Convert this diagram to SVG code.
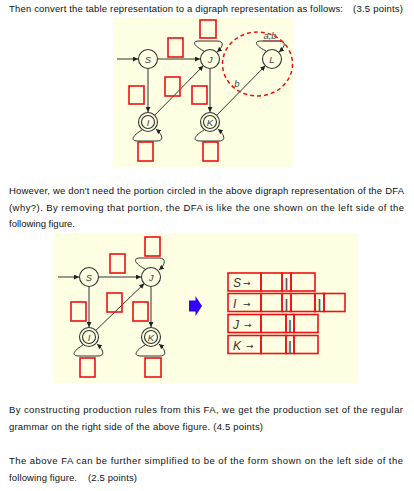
<svg xmlns="http://www.w3.org/2000/svg" width="414" height="491" viewBox="0 0 414 491">
<style>
.t{font-family:"Liberation Sans",Arial,sans-serif;font-size:9.5px;fill:#111}
.bg{fill:#fefee3}
.n{fill:#fefee3;stroke:#333;stroke-width:1.1}
.nl{font-family:"Liberation Sans",Arial,sans-serif;font-size:9.5px;font-style:italic;fill:#444;text-anchor:middle}
.e{fill:none;stroke:#333;stroke-width:1}
.a{marker-end:url(#ah)}
.rb{fill:none;stroke:#ee1111;stroke-width:1.6}
.tl{font-family:"Liberation Sans",Arial,sans-serif;font-size:12px;font-style:italic;fill:#333}
.ar{font-family:"DejaVu Sans",sans-serif;font-size:9px;fill:#333}
.bar{font-family:"Liberation Sans",Arial,sans-serif;font-size:12px;fill:#555;text-anchor:middle;font-weight:bold}
</style>
<defs>
<marker id="ah" viewBox="0 0 10 10" refX="10" refY="5" markerWidth="5" markerHeight="5" orient="auto" markerUnits="userSpaceOnUse">
<path d="M0,0 L10,5 L0,10 z" fill="#222"/>
</marker>
</defs>

<g id="text">
<text class="t" x="9" y="12" textLength="334" lengthAdjust="spacing">Then convert the table representation to a digraph representation as follows:</text>
<text class="t" x="353" y="12" textLength="50" lengthAdjust="spacing">(3.5 points)</text>
<text class="t" x="9" y="194" textLength="395" lengthAdjust="spacing">However, we don't need the portion circled in the above digraph representation of the DFA</text>
<text class="t" x="9" y="210.5" textLength="395" lengthAdjust="spacing">(why?). By removing that portion, the DFA is like the one shown on the left side of the</text>
<text class="t" x="9" y="227">following figure.</text>
<text class="t" x="9" y="413" textLength="394" lengthAdjust="spacing">By constructing production rules from this FA, we get the production set of the regular</text>
<text class="t" x="9" y="430" textLength="254" lengthAdjust="spacing">grammar on the right side of the above figure. (4.5 points)</text>
<text class="t" x="9" y="464" textLength="394" lengthAdjust="spacing">The above FA can be further simplified to be of the form shown on the left side of the</text>
<text class="t" x="9" y="481" textLength="68" lengthAdjust="spacing">following figure.</text>
<text class="t" x="88" y="481" textLength="49" lengthAdjust="spacing">(2.5 points)</text>
</g>

<!-- Diagram 1 -->
<rect class="bg" x="113" y="17" width="180" height="150"/>
<g id="connectors1">
<path class="e a" d="M117,59 L138,59"/>
<path class="e a" d="M157.5,59 L200,59"/>
<path class="e a" d="M148,68.5 L148,112"/>
<path class="e a" d="M154.7,115.2 L203.3,65.8"/>
<path class="e a" d="M210,68.5 L210,112"/>
<path class="e a" d="M216.7,115.2 L265.3,65.8"/>
<path class="e a" d="M204,51 C194,46 191,41 199,41 L217,41 C224,41 224,46 217,52"/>
<path class="e a" d="M266,51 C256,46 253,41 261,41 L279,41 C286,41 286,46 279,52"/>
<path class="e a" d="M142,130 C132,136 130,141 138,141 L157,141 C164,141 163,135 156,129"/>
<path class="e a" d="M204,130 C194,136 192,141 200,141 L219,141 C226,141 225,135 218,129"/>
<line x1="263" y1="41" x2="280" y2="41" stroke="#c03030" stroke-width="1"/>
<text class="nl" x="270" y="39">a,b</text>
<text class="nl" x="237" y="87">b</text>
</g>
<ellipse cx="257.5" cy="64" rx="35" ry="32" fill="none" stroke="#ee1111" stroke-width="1.5" stroke-dasharray="4,3"/>
<g id="S1"><circle class="n" cx="148" cy="59" r="9.5"/><text class="nl" x="148" y="62.5">S</text></g>
<g id="J1"><circle class="n" cx="210" cy="59" r="9.5"/><text class="nl" x="210" y="62.5">J</text></g>
<g id="L1"><circle class="n" cx="272" cy="59" r="9.5"/><text class="nl" x="272" y="62.5">L</text></g>
<g id="I1"><circle class="n" cx="148" cy="122" r="9.5"/><circle class="n" cx="148" cy="122" r="6.5"/><text class="nl" x="148" y="125.5">I</text></g>
<g id="K1"><circle class="n" cx="210" cy="122" r="9.5"/><circle class="n" cx="210" cy="122" r="6.5"/><text class="nl" x="210" y="125.5">K</text></g>
<g id="boxes1">
<rect class="rb" x="200" y="20" width="16" height="18"/>
<rect class="rb" x="168" y="38" width="15" height="19"/>
<rect class="rb" x="129" y="86" width="15" height="18"/>
<rect class="rb" x="165" y="77" width="15" height="19"/>
<rect class="rb" x="192" y="86" width="15" height="18"/>
<rect class="rb" x="138" y="142" width="15" height="19"/>
<rect class="rb" x="203" y="142" width="15" height="19"/>
</g>

<!-- Diagram 2 -->
<rect class="bg" x="53" y="233" width="305" height="150"/>
<g id="connectors2">
<path class="e a" d="M58,277 L79,277"/>
<path class="e a" d="M98.5,277 L141,277"/>
<path class="e a" d="M89,286.5 L89,327"/>
<path class="e a" d="M95.8,330.4 L144.2,283.6"/>
<path class="e a" d="M151,286.5 L151,327"/>
<path class="e a" d="M145,269 C135,264 132,258 140,258 L159,258 C166,258 166,264 159,270"/>
<path class="e a" d="M83,345 C73,351 71,356 79,356 L98,356 C105,356 104,350 97,344"/>
<path class="e a" d="M145,345 C135,351 133,356 141,356 L160,356 C167,356 166,350 159,344"/>
</g>
<g id="S2"><circle class="n" cx="89" cy="277" r="9.5"/><text class="nl" x="89" y="280.5">S</text></g>
<g id="J2"><circle class="n" cx="151" cy="277" r="9.5"/><text class="nl" x="151" y="280.5">J</text></g>
<g id="I2"><circle class="n" cx="89" cy="337" r="9.5"/><circle class="n" cx="89" cy="337" r="6.5"/><text class="nl" x="89" y="340.5">I</text></g>
<g id="K2"><circle class="n" cx="151" cy="337" r="9.5"/><circle class="n" cx="151" cy="337" r="6.5"/><text class="nl" x="151" y="340.5">K</text></g>
<g id="boxes2">
<rect class="rb" x="145" y="237" width="15" height="19"/>
<rect class="rb" x="110" y="254" width="15" height="19"/>
<rect class="rb" x="71" y="302" width="15" height="19"/>
<rect class="rb" x="107" y="293" width="15" height="19"/>
<rect class="rb" x="133" y="302" width="15" height="19"/>
<rect class="rb" x="80" y="358" width="15" height="19"/>
<rect class="rb" x="145" y="358" width="16" height="19"/>
</g>
<g id="bluearrow">
<polygon points="189,300.5 195.5,300.5 195.5,296 202,306 195.5,316 195.5,311.5 189,311.5" fill="#3300ff"/>
</g>
<g id="table">
<rect class="rb" x="228" y="273" width="33" height="18"/>
<rect class="rb" x="261" y="273" width="21" height="18"/>
<rect class="rb" x="282" y="273" width="9" height="18"/>
<rect class="rb" x="291" y="273" width="24" height="18"/>
<rect class="rb" x="228" y="293.5" width="33" height="18"/>
<rect class="rb" x="261" y="293.5" width="21" height="18"/>
<rect class="rb" x="282" y="293.5" width="9" height="18"/>
<rect class="rb" x="291" y="293.5" width="24" height="18"/>
<rect class="rb" x="315" y="293.5" width="9" height="18"/>
<rect class="rb" x="324" y="293.5" width="21" height="18"/>
<rect class="rb" x="228" y="314.5" width="33" height="18"/>
<rect class="rb" x="261" y="314.5" width="25" height="18"/>
<rect class="rb" x="286" y="314.5" width="8" height="18"/>
<rect class="rb" x="294" y="314.5" width="24" height="18"/>
<rect class="rb" x="228" y="335.5" width="33" height="18"/>
<rect class="rb" x="261" y="335.5" width="25" height="18"/>
<rect class="rb" x="286" y="335.5" width="8" height="18"/>
<rect class="rb" x="294" y="335.5" width="24" height="18"/>
<text class="tl" x="233" y="286.5">S</text><text class="ar" x="243" y="286">→</text>
<text class="tl" x="233" y="307.5">I</text><text class="ar" x="243" y="307">→</text>
<text class="tl" x="233" y="328.5">J</text><text class="ar" x="244" y="328">→</text>
<text class="tl" x="233" y="349.5">K</text><text class="ar" x="246" y="349">→</text>
<text class="bar" x="286.5" y="286.5">|</text>
<text class="bar" x="286.5" y="307.5">|</text>
<text class="bar" x="319.5" y="307.5">|</text>
<text class="bar" x="290" y="328.5">|</text>
<text class="bar" x="290" y="349.5">|</text>
</g>
</svg>
